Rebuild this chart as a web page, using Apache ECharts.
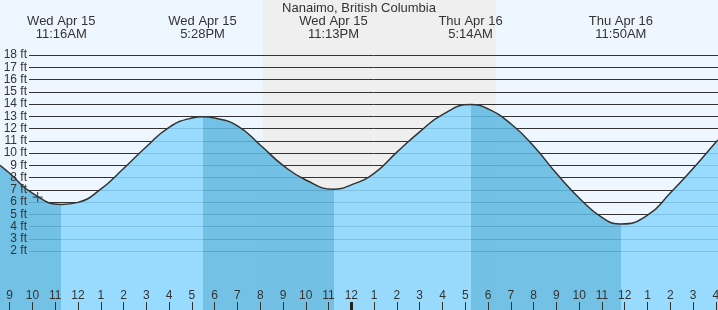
<!DOCTYPE html>
<html>
<head>
<meta charset="utf-8">
<script src="https://cdn.jsdelivr.net/npm/echarts@6/dist/echarts.min.js"></script>
<style>
html,body{margin:0;padding:0;background:#EEF7FF;}
#chart{width:718px;height:310px;}
</style>
</head>
<body>
<div id="chart"></div>
<script>
// Hours since Wed Apr 15 00:00 (local); heights in ft
const tideTimes = [8.576, 9, 10, 11.267, 12, 13, 14, 15, 16, 17, 17.467, 18, 19, 20, 21, 22, 23.217, 24, 25, 26, 27, 28, 29.233, 30, 31, 32, 33, 34, 35, 35.833, 37, 38, 39, 40, 40.096];
const tideHeights = [9.0, 8.35, 6.72, 5.8, 5.97, 7.05, 8.73, 10.51, 12.1, 12.85, 12.95, 12.85, 12.22, 10.65, 8.99, 7.8, 7.05, 7.4, 8.34, 10.07, 11.73, 13.13, 13.95, 13.6, 12.39, 10.58, 8.34, 6.33, 4.75, 4.2, 4.92, 6.73, 8.73, 10.88, 11.05];

const eventTimes = [11.267, 17.467, 23.217, 29.233, 35.833];
const eventHeights = [5.8, 12.95, 7.05, 13.95, 4.2];
const eventDays = ['Wed Apr 15', 'Wed Apr 15', 'Wed Apr 15', 'Thu Apr 16', 'Thu Apr 16'];
const eventClock = ['11:16AM', '5:28PM', '11:13PM', '5:14AM', '11:50AM'];

const hourTicks = [9,10,11,12,13,14,15,16,17,18,19,20,21,22,23,24,25,26,27,28,29,30,31,32,33,34,35,36,37,38,39,40];
const heightTicks = [2,3,4,5,6,7,8,9,10,11,12,13,14,15,16,17,18];

const nightStart = 20.12;
const nightEnd = 30.35;
const nowPoint = [10.23, 6.4];
const midnight = [24];
const titleText = 'Nanaimo, British Columbia';

const xMin = 8.576, xMax = 40.096;
const yMin = -2.816, yMax = 22.49;

const FONT = 'Liberation Sans, Arial, sans-serif';
const RISE = 'rgb(139,215,254)';
const FALL = 'rgb(96,185,226)';

const tideData = tideTimes.map((t, i) => [t, tideHeights[i]]);

// pieces: falling (high->low) darker, rising lighter
const bounds = [xMin].concat(eventTimes).concat([xMax]);
const pieces = [];
for (let i = 0; i < bounds.length - 1; i++) {
  let falling;
  if (i < eventTimes.length) {
    const prevH = i === 0 ? tideHeights[0] : eventHeights[i - 1];
    falling = eventHeights[i] < prevH;
  } else {
    falling = tideHeights[tideHeights.length - 1] < eventHeights[eventHeights.length - 1];
  }
  const p = { color: falling ? FALL : RISE };
  if (i === 0) p.lt = bounds[1];
  else if (i === bounds.length - 2) p.gte = bounds[i];
  else { p.gte = bounds[i]; p.lt = bounds[i + 1]; }
  pieces.push(p);
}

const chart = echarts.init(document.getElementById('chart'), null, { renderer: 'canvas' });
chart.setOption({
  animation: false,
  backgroundColor: '#EEF7FF',
  textStyle: { fontFamily: FONT },
  title: {
    text: titleText,
    left: 'center',
    top: 2,
    padding: 0,
    textStyle: { fontSize: 13, fontWeight: 'normal', color: '#333', fontFamily: FONT }
  },
  grid: [
    { left: 0, right: 0, top: 0, bottom: 0, containLabel: false, outerBoundsMode: 'none' },
    { left: 29, right: 0, top: 55, height: 196, containLabel: false, outerBoundsMode: 'none' }
  ],
  xAxis: [
    {
      gridIndex: 0, type: 'value', min: xMin, max: xMax, position: 'bottom', z: 5,
      axisLine: { show: false, onZero: false }, splitLine: { show: false },
      axisTick: { show: true, inside: true, length: 8, customValues: hourTicks, lineStyle: { color: '#333', width: 1 } },
      axisLabel: {
        show: true, inside: true, margin: 8, customValues: hourTicks,
        fontSize: 12, color: '#333', fontFamily: FONT,
        formatter: v => String((Math.round(v) % 12) || 12)
      }
    },
    {
      gridIndex: 0, type: 'value', min: xMin, max: xMax, position: 'top', z: 5,
      axisLine: { show: false, onZero: false }, splitLine: { show: false }, axisTick: { show: false },
      axisLabel: {
        show: true, inside: true, margin: 14.5, customValues: eventTimes,
        fontSize: 13, lineHeight: 13, color: '#333', fontFamily: FONT, align: 'center',
        formatter: v => {
          let best = 0;
          eventTimes.forEach((t, i) => { if (Math.abs(t - v) < Math.abs(eventTimes[best] - v)) best = i; });
          return eventDays[best] + '\n' + eventClock[best];
        }
      }
    },
    {
      gridIndex: 0, type: 'value', min: xMin, max: xMax, position: 'bottom', z: 5,
      axisLine: { show: false, onZero: false }, splitLine: { show: false }, axisLabel: { show: false },
      axisTick: { show: true, inside: true, length: 8, customValues: midnight, lineStyle: { color: '#222', width: 3 } }
    },
    { gridIndex: 1, type: 'value', min: 0, max: 1, show: false, axisLine: { onZero: false } }
  ],
  yAxis: [
    {
      gridIndex: 0, type: 'value', min: yMin, max: yMax, z: 5,
      axisLine: { show: false, onZero: false }, axisTick: { show: false }, splitLine: { show: false },
      axisLabel: {
        show: true, inside: true, margin: 27, align: 'right', customValues: heightTicks,
        fontSize: 12, color: '#333', fontFamily: FONT,
        formatter: v => Math.round(v) + ' ft'
      }
    },
    {
      gridIndex: 1, type: 'value', min: 2, max: 18, interval: 1, z: 2,
      axisLine: { show: false, onZero: false }, axisTick: { show: false }, axisLabel: { show: false },
      splitLine: { show: true, lineStyle: { color: '#333', width: 1 } }
    }
  ],
  visualMap: {
    type: 'piecewise', show: false, dimension: 0, seriesIndex: 1, pieces: pieces
  },
  series: [
    {
      name: 'night', type: 'line', xAxisIndex: 0, yAxisIndex: 0, z: 1, data: [],
      silent: true,
      markArea: {
        silent: true,
        itemStyle: { color: '#EFEFEF', opacity: 1 },
        data: [[{ xAxis: nightStart }, { xAxis: nightEnd }]]
      }
    },
    {
      name: 'tide', type: 'line', xAxisIndex: 0, yAxisIndex: 0, z: 3,
      data: tideData, smooth: 0.5, showSymbol: false, silent: true,
      lineStyle: { color: '#333', width: 1.5 },
      areaStyle: { origin: 'start', opacity: 0.87 }
    },
    {
      name: 'now', type: 'scatter', xAxisIndex: 0, yAxisIndex: 0, z: 6, silent: true,
      data: [nowPoint],
      symbol: 'path://M0,5L10,5M5,0L5,10', symbolSize: 10,
      itemStyle: { color: 'none', borderColor: '#333', borderWidth: 1.2 }
    }
  ]
});
</script>
</body>
</html>
